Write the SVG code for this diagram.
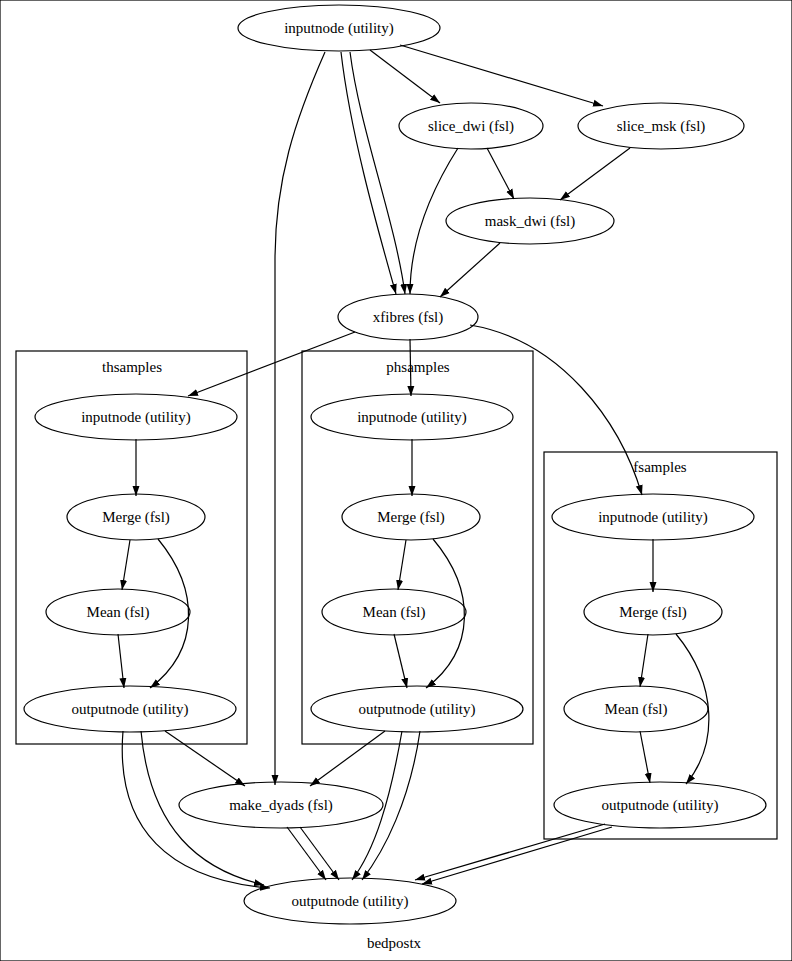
<svg xmlns="http://www.w3.org/2000/svg" width="792" height="961" viewBox="0 0 792 961">
<style>
ellipse{fill:none;stroke:#000;stroke-width:1.2}
rect{fill:none;stroke:#000;stroke-width:1.2}
text{font-family:"Liberation Serif","Times New Roman",serif;font-size:15px;text-anchor:middle;dominant-baseline:central}
#edges path{fill:none;stroke:#000;stroke-width:1.2;marker-end:url(#a)}
</style>
<defs><marker id="a" viewBox="0 0 10 10" refX="10" refY="5" markerWidth="10" markerHeight="10" markerUnits="userSpaceOnUse" orient="auto"><path d="M0,1.5L10,5L0,8.5z" fill="#000"/></marker></defs>
<rect width="792" height="961" fill="#fff" stroke="none"/>
<g id="clusters">
<rect x="16" y="351" width="231" height="393"/><text x="132" y="367">thsamples</text>
<rect x="302" y="351" width="231" height="393"/><text x="418" y="367">phsamples</text>
<rect x="544" y="452" width="233" height="387"/><text x="660" y="467">fsamples</text>
</g>
<g id="edges">
<path d="M325,52 C295,120 275,180 275,260 L275,785"/>
<path d="M341,52 C350,130 375,220 396,294"/>
<path d="M350,52 C360,130 395,220 405,294"/>
<path d="M370,50 L440,103"/>
<path d="M400,45 L603,106"/>
<path d="M487,148 L514,199"/>
<path d="M458,148 C425,200 410,250 410,294"/>
<path d="M630,148 L560,200"/>
<path d="M500,243 L440,297"/>
<path d="M355,332 L188,396"/>
<path d="M410,339 L411,396"/>
<path d="M470,325 C560,340 620,420 642,495"/>
<path d="M136,439 L136,496"/>
<path d="M130,540 L122,590"/>
<path d="M158,539 C200,590 200,650 150,688"/>
<path d="M118,634 L124,688"/>
<path d="M412,439 L412,496"/>
<path d="M406,540 L398,590"/>
<path d="M433,539 C476,590 476,650 426,688"/>
<path d="M394,634 L407,688"/>
<path d="M653,539 L653,592"/>
<path d="M648,634 L640,687"/>
<path d="M676,634 C718,685 718,745 686,784"/>
<path d="M640,731 L650,783"/>
<path d="M165,731 L245,786"/>
<path d="M123,731 C115,830 170,880 270,888"/>
<path d="M141,731 C150,830 200,870 264,885"/>
<path d="M385,731 L310,786"/>
<path d="M402,731 C390,800 375,850 352,880"/>
<path d="M420,731 C410,800 385,850 362,880"/>
<path d="M287,827 L326,880"/>
<path d="M300,827 L339,880"/>
<path d="M605,824 L415,880"/>
<path d="M612,827 L422,884"/>
</g>
<g id="n1"><ellipse cx="339" cy="28" rx="101" ry="23"/><text x="339" y="28">inputnode (utility)</text></g>
<g id="n2"><ellipse cx="471" cy="126" rx="72" ry="23"/><text x="471" y="126">slice_dwi (fsl)</text></g>
<g id="n3"><ellipse cx="661" cy="126" rx="83" ry="23"/><text x="661" y="126">slice_msk (fsl)</text></g>
<g id="n4"><ellipse cx="530" cy="221" rx="84" ry="23"/><text x="530" y="221">mask_dwi (fsl)</text></g>
<g id="n5"><ellipse cx="408" cy="317" rx="70" ry="23"/><text x="408" y="317">xfibres (fsl)</text></g>
<g id="th1"><ellipse cx="136" cy="417" rx="101" ry="23"/><text x="136" y="417">inputnode (utility)</text></g>
<g id="th2"><ellipse cx="136" cy="517" rx="69" ry="23"/><text x="136" y="517">Merge (fsl)</text></g>
<g id="th3"><ellipse cx="118" cy="612" rx="72" ry="23"/><text x="118" y="612">Mean (fsl)</text></g>
<g id="th4"><ellipse cx="130" cy="709" rx="106" ry="23"/><text x="130" y="709">outputnode (utility)</text></g>
<g id="ph1"><ellipse cx="412" cy="417" rx="101" ry="23"/><text x="412" y="417">inputnode (utility)</text></g>
<g id="ph2"><ellipse cx="411" cy="517" rx="69" ry="23"/><text x="411" y="517">Merge (fsl)</text></g>
<g id="ph3"><ellipse cx="394" cy="612" rx="72" ry="23"/><text x="394" y="612">Mean (fsl)</text></g>
<g id="ph4"><ellipse cx="417" cy="709" rx="106" ry="23"/><text x="417" y="709">outputnode (utility)</text></g>
<g id="fs1"><ellipse cx="653" cy="517" rx="101" ry="23"/><text x="653" y="517">inputnode (utility)</text></g>
<g id="fs2"><ellipse cx="653" cy="612" rx="69" ry="23"/><text x="653" y="612">Merge (fsl)</text></g>
<g id="fs3"><ellipse cx="636" cy="709" rx="72" ry="23"/><text x="636" y="709">Mean (fsl)</text></g>
<g id="fs4"><ellipse cx="660" cy="805" rx="106" ry="23"/><text x="660" y="805">outputnode (utility)</text></g>
<g id="n6"><ellipse cx="281" cy="805" rx="102" ry="23"/><text x="281" y="805">make_dyads (fsl)</text></g>
<g id="n7"><ellipse cx="350" cy="901" rx="106" ry="23"/><text x="350" y="901">outputnode (utility)</text></g>
<text x="394" y="943">bedpostx</text>
</svg>
